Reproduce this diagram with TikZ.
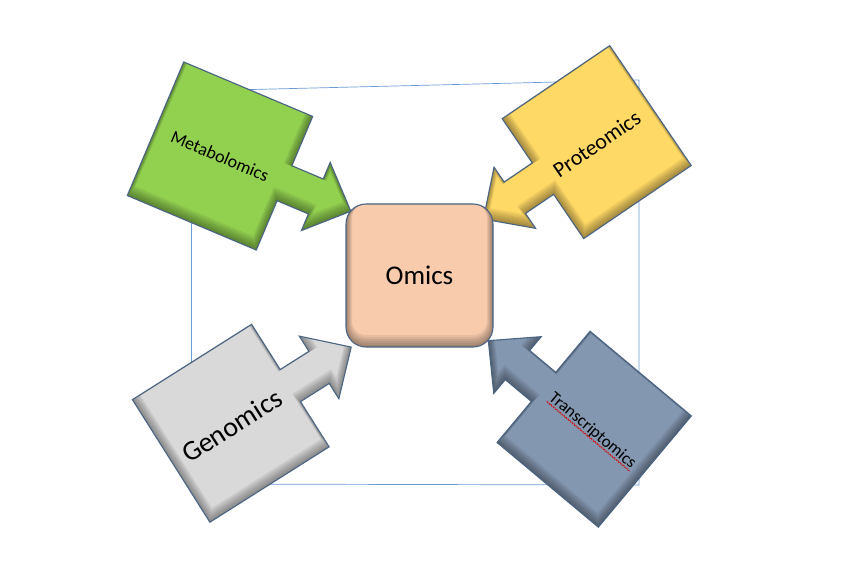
\documentclass[tikz,border=0pt]{standalone}
\usepackage{fontspec}
\setmainfont{Carlito}
\usetikzlibrary{calc,decorations.pathmorphing}
\definecolor{cgreen}{HTML}{92D050}
\definecolor{cyellow}{HTML}{FFD966}
\definecolor{cgray}{HTML}{D9D9D9}
\definecolor{cslate}{HTML}{8497B0}
\definecolor{cpeach}{HTML}{F8CBAD}
\definecolor{cedge}{HTML}{4A6584}
\definecolor{cframe}{HTML}{6C9BD2}
\tikzset{
  shapeline/.style={draw=cedge, line width=1.1pt, line join=miter},
  framestyle/.style={draw=cframe, line width=0.7pt},
  lbl/.style={inner sep=0pt, text=black},
  shade/.style={black, opacity=0.065},
}
\newcommand\mkcallout[6]{% #1 name, #2 x, #3 y, #4 angle, #5 half depth, #6 colour
  \begin{scope}[shift={(#2,#3)}, rotate=#4]
    \pgfmathsetmacro\ce{#5+34}%
    \pgfmathsetmacro\ct{#5+72}%
    \def\cpath{(-#5,-72.5) -- (#5,-72.5) -- (#5,-19) -- (\ce,-19) -- (\ce,-37) -- (\ct,0) -- (\ce,37) -- (\ce,19) -- (#5,19) -- (#5,72.5) -- (-#5,72.5) -- cycle}%
    \fill[#6] \cpath;
    \begin{scope}
      \clip \cpath;
      \foreach \s in {1,...,6}{
        \draw[shade, line width=2*\s pt, shift={({\s*sin(#4)},{\s*cos(#4)})}] \cpath;}
    \end{scope}
    \draw[shapeline] \cpath;
    \coordinate (#1) at (0,0);
  \end{scope}}
\begin{document}
\begin{tikzpicture}[x=1pt,y=1pt]
\useasboundingbox (0,0) rectangle (842,-569);
% frame
\coordinate (f1) at (191.5,-91);
\coordinate (f2) at (639,-80);
\coordinate (f3) at (639,-485);
\coordinate (f4) at (191.5,-484);
\draw[framestyle] (f1) -- (f2) -- (f3) -- (f4) -- cycle;
% callouts
\mkcallout{cmeta}{220}{-156}{-22.9}{70}{cgreen}
\mkcallout{cprot}{596.7}{-142.1}{214.2}{65}{cyellow}
\mkcallout{cgeno}{230.75}{-423.25}{32.3}{70.5}{cgray}
\mkcallout{ctrans}{594.2}{-429.2}{140.1}{66}{cslate}
% centre box
\node[fill=cpeach, draw=cedge, line width=1.1pt, rounded corners=20pt,
      minimum width=147pt, minimum height=143pt, inner sep=0pt,
      font=\fontsize{27}{30}\selectfont,
      path picture={
        \foreach \s in {1,...,6}{
          \draw[shade, line width=2*\s pt, rounded corners=20pt]
            ([yshift=\s pt]path picture bounding box.south west) rectangle
            ([yshift=\s pt]path picture bounding box.north east);}
      }] (omics) at (419.5,-275.5) {\raisebox{-2pt}{Omics}};
% labels
\node[lbl, rotate=-23, font=\fontsize{18}{20}\selectfont] (meta) at (220,-156) {Metabolomics};
\node[lbl, rotate=34.2, font=\fontsize{22}{24}\selectfont] (prot) at (596.7,-144) {Proteomics};
\node[lbl, rotate=32.3, font=\fontsize{28}{30}\selectfont] (geno) at (231.7,-425.8) {Genomics};
\node[lbl, rotate=-40, font=\fontsize{17}{19}\selectfont] (trans) at (592.5,-430.8) {Transcriptomics};
\draw[red!85!black, line width=0.5pt, decorate,
      decoration={snake, amplitude=0.7pt, segment length=2.5pt}]
  ($(trans.base west)!2.5pt!-90:(trans.base east)$) --
  ($(trans.base east)!2.5pt!90:(trans.base west)$);
\end{tikzpicture}
\end{document}
